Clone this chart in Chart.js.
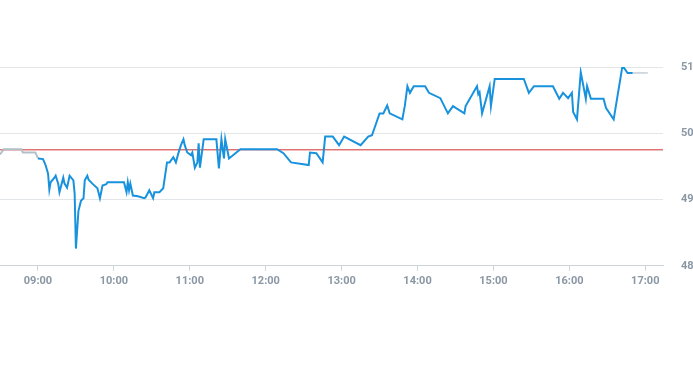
<!DOCTYPE html>
<html>
<head>
<meta charset="utf-8">
<script src="https://cdn.jsdelivr.net/npm/chart.js@4/dist/chart.umd.min.js"></script>
<style>
  html, body { margin: 0; padding: 0; background: #fff; }
  #wrap { width: 693px; height: 365px; }
</style>
</head>
<body>
<div id="wrap"><canvas id="price"></canvas></div>
<script>
// pre-market (grey)
const preTimes = ['08:30','08:33','08:47','08:48','08:58','09:00'];
const preValues = [49.68, 49.76, 49.76, 49.71, 49.71, 49.62];

// regular session (blue)
const times = ['09:00','09:04','09:06','09:08','09:09','09:10','09:13','09:14','09:16','09:17',
  '09:20','09:21','09:23','09:25','09:28','09:29','09:30','09:32','09:34','09:36',
  '09:37','09:39','09:40','09:43','09:47','09:49','09:51','09:54','09:55','10:06',
  '10:08','10:10','10:11','10:12','10:13','10:15','10:19','10:24','10:25','10:28',
  '10:31','10:32','10:36','10:39','10:42','10:44','10:47','10:49','10:51','10:53',
  '10:55','10:56','10:58','11:01','11:02','11:04','11:06','11:07','11:08','11:11',
  '11:21','11:23','11:25','11:27','11:28','11:31','11:40','12:09','12:14','12:20',
  '12:34','12:35','12:40','12:45','12:47','12:53','12:58','13:02','13:15','13:21',
  '13:24','13:30','13:33','13:36','13:38','13:48','13:50','13:52','13:54','13:57',
  '14:06','14:09','14:18','14:24','14:28','14:37','14:38','14:47','14:48','14:49',
  '14:51','14:57','14:58','15:01','15:24','15:28','15:32','15:47','15:52','15:55',
  '15:59','16:02','16:03','16:06','16:09','16:13','16:14','16:17','16:27','16:29',
  '16:35','16:42','16:46','16:50'];
const values = [49.62,49.61,49.52,49.39,49.15,49.26,49.33,49.36,49.24,49.11,
  49.33,49.24,49.18,49.36,49.29,49.09,48.26,48.83,48.98,49.02,
  49.29,49.36,49.30,49.24,49.17,49.02,49.21,49.23,49.26,49.26,
  49.26,49.11,49.26,49.14,49.24,49.06,49.05,49.02,49.03,49.14,
  49.02,49.11,49.11,49.17,49.56,49.56,49.64,49.56,49.70,49.82,
  49.91,49.82,49.71,49.67,49.71,49.48,49.56,49.85,49.48,49.91,
  49.91,49.47,49.91,49.62,49.91,49.62,49.76,49.76,49.70,49.56,
  49.52,49.71,49.70,49.56,49.95,49.95,49.82,49.95,49.82,49.95,
  49.97,50.30,50.30,50.42,50.30,50.21,50.42,50.71,50.61,50.71,
  50.71,50.61,50.53,50.30,50.41,50.30,50.41,50.71,50.59,50.62,
  50.30,50.71,50.41,50.82,50.82,50.61,50.71,50.71,50.52,50.61,
  50.53,50.61,50.32,50.21,50.92,50.52,50.71,50.52,50.52,50.38,
  50.21,51.02,50.91,50.91];

// after hours (grey)
const postTimes = ['16:50','17:02'];
const postValues = [50.91, 50.91];

const prevClose = 49.75;
const tickLabels = ['09:00','10:00','11:00','12:00','13:00','14:00','15:00','16:00','17:00'];
const xMin = '08:30', xMax = '17:14';

function toMin(t) { const p = t.split(':'); return +p[0] * 60 + +p[1]; }
function pad(n) { return (n < 10 ? '0' : '') + n; }
function pts(ts, vs) { return ts.map((t, i) => ({ x: toMin(t), y: vs[i] })); }

const tickFont = { family: 'Roboto, "Liberation Sans", sans-serif', size: 11, weight: 'bold' };

new Chart(document.getElementById('price'), {
  type: 'line',
  data: {
    datasets: [
      { data: pts(times, values), borderColor: '#1992de', borderWidth: 2, pointRadius: 0, tension: 0 },
      { data: pts(preTimes, preValues), borderColor: '#b3bfc8', borderWidth: 2, pointRadius: 0, tension: 0 },
      { data: pts(postTimes, postValues), borderColor: '#a9b6c0', borderWidth: 1, pointRadius: 0, tension: 0 },
      { data: [{ x: toMin(xMin), y: prevClose }, { x: toMin(xMax), y: prevClose }],
        borderColor: '#d22f2f', borderWidth: 1, pointRadius: 0 }
    ]
  },
  options: {
    animation: false,
    responsive: true,
    maintainAspectRatio: false,
    layout: { padding: { top: 67, bottom: 73, left: 0, right: 0 } },
    plugins: { legend: { display: false }, tooltip: { enabled: false } },
    scales: {
      x: {
        type: 'linear',
        min: toMin(xMin),
        max: toMin(xMax),
        afterBuildTicks: axis => { axis.ticks = tickLabels.map(t => ({ value: toMin(t) })); },
        grid: { drawOnChartArea: false, tickLength: 5, color: '#cdd5dc' },
        border: { color: '#cdd5dc' },
        ticks: {
          autoSkip: false, maxRotation: 0, padding: 4,
          color: '#8a97a4', font: tickFont,
          callback: v => pad(Math.floor(v / 60)) + ':' + pad(v % 60)
        }
      },
      y: {
        position: 'right',
        min: 48,
        max: 51,
        afterFit: s => { s.width = 30; },
        ticks: { stepSize: 1, padding: 18, color: '#8a97a4', font: tickFont },
        grid: { drawTicks: false, color: '#e3e6e9' },
        border: { display: false }
      }
    }
  }
});
</script>
</body>
</html>
